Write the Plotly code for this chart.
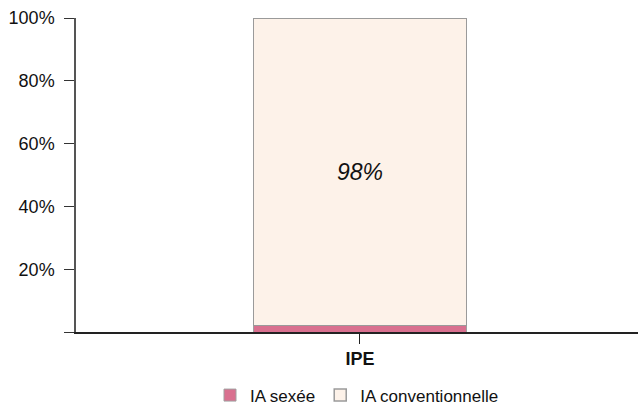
import plotly.graph_objects as go

categories = ["IPE"]
ia_sexee = [2]
ia_conventionnelle = [98]
y_ticks = [0, 20, 40, 60, 80, 100]
y_tick_labels = ["", "20%", "40%", "60%", "80%", "100%"]

font_family = "Liberation Sans, Arial, sans-serif"

fig = go.Figure()
fig.add_trace(go.Bar(
    x=categories, y=ia_sexee, name="IA sexée",
    marker=dict(color="#d9708f", line=dict(color="#a0a0a0", width=1)),
    width=0.375, hoverinfo="skip",
))
fig.add_trace(go.Bar(
    x=categories, y=ia_conventionnelle, name="IA conventionnelle",
    marker=dict(color="#fdf2e9", line=dict(color="#9a9a9a", width=1.5)),
    width=0.375,
    text=[f"{v}%" for v in ia_conventionnelle],
    texttemplate="<i>%{text}</i>",
    textposition="inside", insidetextanchor="middle",
    textfont=dict(size=23, color="#111111", family=font_family),
    hoverinfo="skip",
))

fig.update_layout(
    width=638, height=407,
    barmode="stack",
    paper_bgcolor="white", plot_bgcolor="white",
    margin=dict(l=76, r=0, t=18, b=75, autoexpand=False),
    font=dict(family=font_family, color="#111111"),
    showlegend=True,
    legend=dict(
        orientation="h", x=0.5, xanchor="center", xref="paper",
        y=-0.145, yanchor="top", traceorder="normal",
        font=dict(size=17, color="#111111"),
        itemwidth=30,
    ),
    xaxis=dict(
        type="category", range=[-0.5, 0.4895],
        showline=True, linecolor="#222222", linewidth=1.5,
        ticks="outside", ticklen=10, tickcolor="#222222", tickwidth=1,
        tickfont=dict(size=18, color="#111111", family=font_family),
        tickvals=categories, ticktext=[f"<b>{c}</b>" for c in categories],
        showgrid=False, zeroline=False,
    ),
    yaxis=dict(
        range=[0, 100],
        tickvals=y_ticks, ticktext=y_tick_labels,
        showline=True, linecolor="#555555", linewidth=1.5,
        ticks="outside", ticklen=10, tickcolor="#333333", tickwidth=1,
        tickfont=dict(size=18, color="#111111", family=font_family),
        ticklabelstandoff=6,
        showgrid=False, zeroline=False,
    ),
)

fig.write_html(
    "out.html",
    config={"displayModeBar": False},
    post_script="document.body.style.margin='0';document.body.style.padding='0';",
)
